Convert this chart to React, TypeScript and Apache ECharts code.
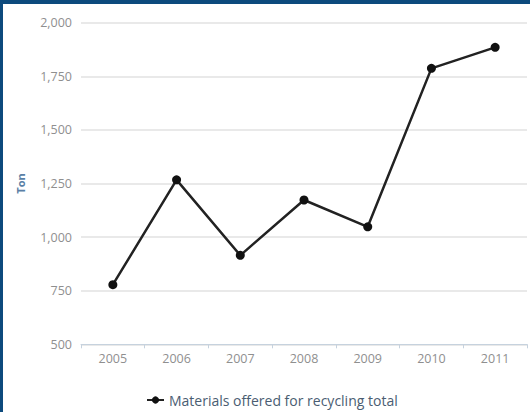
import React, { useEffect, useRef } from "react";
import * as echarts from "echarts";

const years = ["2005", "2006", "2007", "2008", "2009", "2010", "2011"];
const recycled = [778, 1267, 915, 1173, 1048, 1787, 1885];
const seriesName = "Materials offered for recycling total";
const yMin = 500;
const yMax = 2000;
const yStep = 250;

export default function App() {
  const ref = useRef<HTMLDivElement>(null);
  useEffect(() => {
    if (!ref.current) return;
    const chart = echarts.init(ref.current, undefined, { renderer: "svg" });
    const font = "'Open Sans', 'DejaVu Sans', sans-serif";
    chart.setOption({
      animation: false,
      backgroundColor: "#ffffff",
      grid: { left: 81, right: 3, top: 22.7, bottom: 67.7, containLabel: false },
      xAxis: {
        type: "category",
        data: years,
        boundaryGap: true,
        axisLine: { lineStyle: { color: "#c6d2de", width: 1 } },
        axisTick: { show: true, length: 4, lineStyle: { color: "#c6d2de" } },
        axisLabel: { color: "#8f8f8f", fontSize: 12.5, fontFamily: font, margin: 8 },
      },
      yAxis: {
        type: "value",
        min: yMin,
        max: yMax,
        interval: yStep,
        name: "Ton",
        nameLocation: "middle",
        nameRotate: 90,
        nameGap: 55,
        nameTextStyle: { color: "#5a7fa6", fontSize: 11, fontWeight: "bold", fontFamily: font },
        axisLine: { show: false },
        axisTick: { show: false },
        splitLine: { lineStyle: { color: "#e2e2e2", width: 1.5 } },
        axisLabel: {
          color: "#8f8f8f",
          fontSize: 12.5,
          fontFamily: font,
          margin: 9,
          formatter: (v: number) => v.toLocaleString("en-US"),
        },
      },
      legend: {
        left: 141,
        top: 388,
        itemWidth: 17,
        itemHeight: 9,
        itemGap: 10,
        textStyle: { color: "#4a5d72", fontSize: 14, fontFamily: font },
        data: [seriesName],
      },
      series: [
        {
          name: seriesName,
          type: "line",
          data: recycled,
          symbol: "circle",
          symbolSize: 9,
          lineStyle: { color: "#222222", width: 2.5 },
          itemStyle: { color: "#111111" },
        },
      ],
    });
    return () => chart.dispose();
  }, []);

  return (
    <div
      style={{
        position: "fixed",
        left: 0,
        top: 0,
        width: 530,
        height: 412,
        background: "#ffffff",
        overflow: "hidden",
      }}
    >
      <div ref={ref} style={{ position: "absolute", left: 0, top: 0, width: 530, height: 412 }} />
      <div style={{ position: "absolute", left: 0, top: 0, width: 530, height: 4, background: "#0d4a7d" }} />
      <div style={{ position: "absolute", left: 0, top: 0, width: 3, height: 412, background: "#0d4a7d" }} />
    </div>
  );
}
